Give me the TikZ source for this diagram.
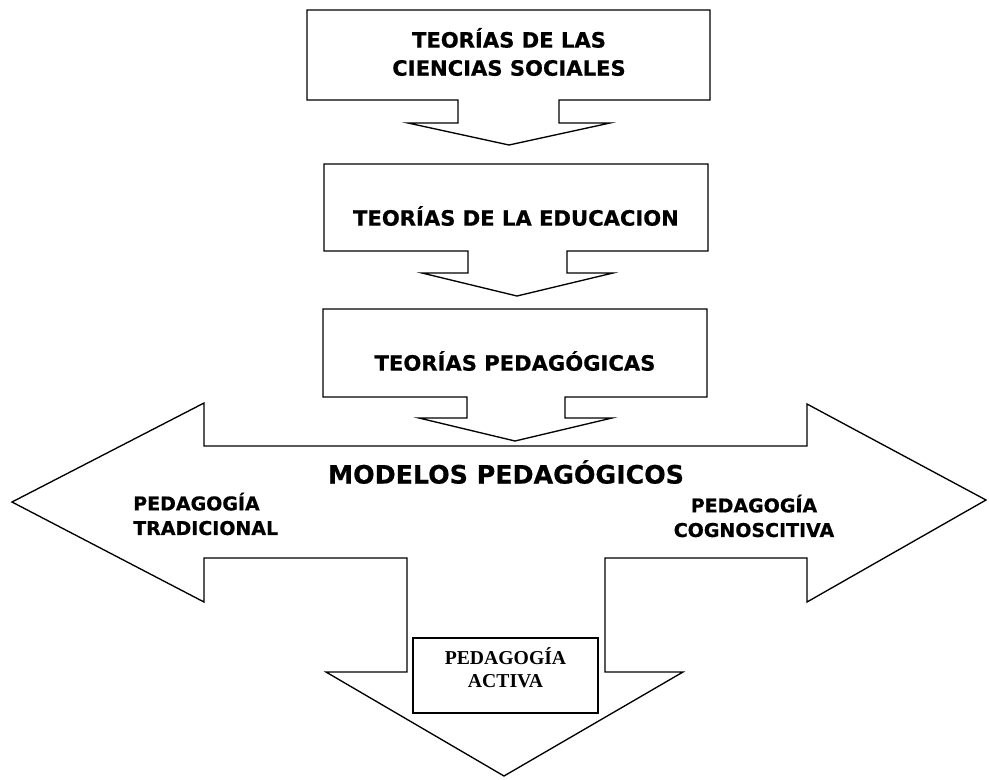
\documentclass[tikz,border=0pt]{standalone}
\usepackage{fontspec}
\setmainfont{DejaVu Sans}[BoldFeatures={FakeBold=0.6}]
\newfontfamily\serifbox{Liberation Serif}
\usepackage{tikz}
\usetikzlibrary{positioning}
\usepackage{xcolor}

\begin{document}
\begin{tikzpicture}[x=0.025cm, y=-0.025cm,
outline/.style={draw, line width=0.95pt, line join=miter, fill=white},
teoria/.style={font=\bfseries\fontsize{15}{20}\selectfont, align=center},
modelo/.style={font=\bfseries\fontsize{13.5}{17.5}\selectfont},
activa/.style={draw, line width=0.8pt, minimum width=4.625cm, minimum height=1.875cm}
]

\useasboundingbox (0,0) rectangle (989,779);

% callouts
\draw[outline] (307,10) -- (710,10) -- (710,100) -- (559,100) -- (559,123) -- (610,123)
  -- (509,145) -- (408,123) -- (458,123) -- (458,100) -- (307,100) -- cycle;
\draw[outline] (324,164) -- (708,164) -- (708,251) -- (567,251) -- (567,273) -- (613,273)
  -- (517,296) -- (422,273) -- (468,273) -- (468,251) -- (324,251) -- cycle;
\draw[outline] (323,309) -- (707,309) -- (707,397) -- (565,397) -- (565,418) -- (612,418)
  -- (515,441) -- (419,418) -- (467,418) -- (467,397) -- (323,397) -- cycle;

% three way arrow
\draw[outline] (204,446) -- (204,403) -- (12,502) -- (204,602) -- (204,558) -- (407,558)
  -- (407,672) -- (326,672) -- (504,776) -- (683,672) -- (605,672) -- (605,558)
  -- (807,558) -- (807,602) -- (986,500) -- (807,404) -- (807,446) -- cycle;

\node[teoria] (teo0) at (509,52) {TEORÍAS DE LAS\\CIENCIAS SOCIALES};
\node[teoria] (teo1) at (516,216) {TEORÍAS DE LA EDUCACION};
\node[teoria] (teo2) at (515,361) {TEORÍAS PEDAGÓGICAS};

\node[font=\bfseries\fontsize{18}{22}\selectfont] (modelos) at (506,472) {MODELOS PEDAGÓGICOS};
\node[modelo, align=left, anchor=west, inner sep=0pt] (tradicional) at (133,514) {PEDAGOGÍA\\TRADICIONAL};
\node[modelo, align=center] (cognoscitiva) at (754,516) {PEDAGOGÍA\\COGNOSCITIVA};
\node[activa] (actbox) at (505.5,675.5) {};
\node[font=\serifbox\bfseries\fontsize{14}{16.5}\selectfont, align=center] (act) at (505.5,668) {PEDAGOGÍA\\ACTIVA};

\end{tikzpicture}
\end{document}
